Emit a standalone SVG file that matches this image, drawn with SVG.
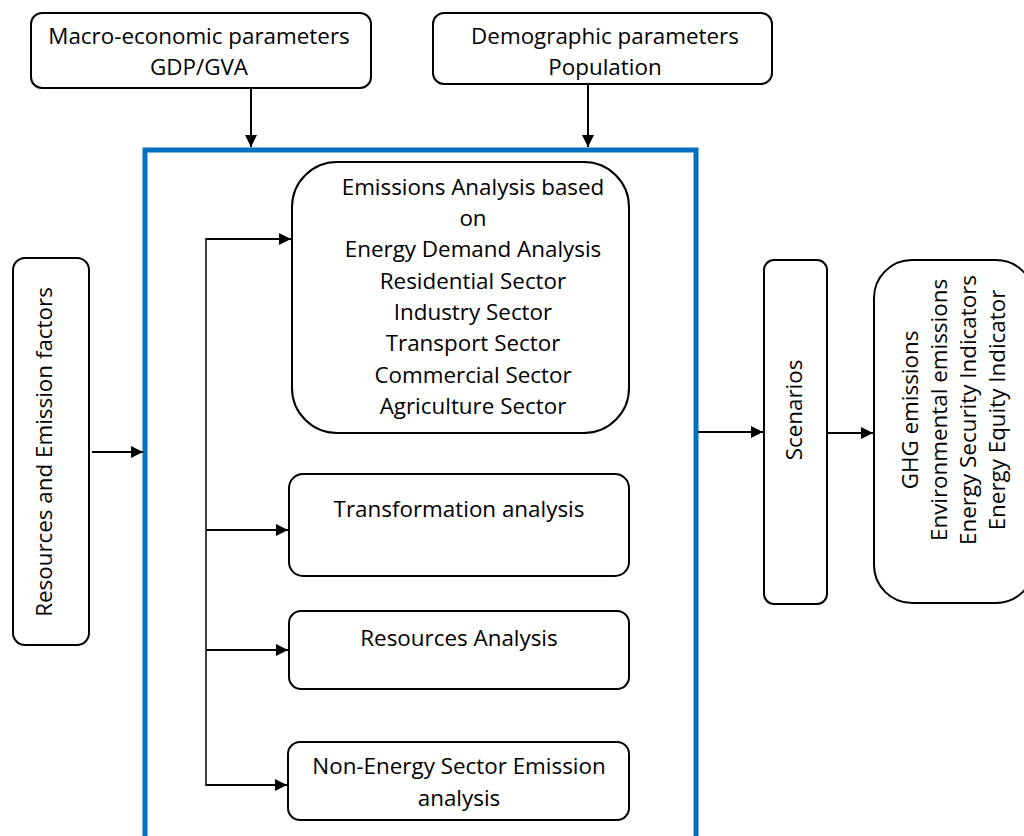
<svg xmlns="http://www.w3.org/2000/svg" width="1024" height="836" viewBox="0 0 1024 836">
<style>
.box{fill:#fff;stroke:#000;stroke-width:2}
.t{font-family:"Open Sans","Noto Sans",sans-serif;font-size:22.4px;fill:#000;text-anchor:middle;dominant-baseline:central}
.c{stroke:#000;stroke-width:2;fill:none}
</style>
<defs>
<marker id="ah" viewBox="0 0 10 10" refX="10" refY="5" markerWidth="12" markerHeight="12" markerUnits="userSpaceOnUse" orient="auto">
<path d="M0,0 L10,5 L0,10 z" fill="#000"/>
</marker>
</defs>
<rect width="1024" height="836" fill="#fff"/>
<g id="macro">
<rect class="box" x="31" y="13" width="340" height="75" rx="11"/>
<text class="t" x="199" y="35">Macro-economic parameters</text>
<text class="t" x="199" y="66">GDP/GVA</text>
</g>
<g id="demographic">
<rect class="box" x="433" y="13" width="339" height="71" rx="11"/>
<text class="t" x="605" y="35">Demographic parameters</text>
<text class="t" x="605" y="66">Population</text>
</g>
<g id="model">
<rect x="145" y="150" width="551" height="700" fill="none" stroke="#0070C0" stroke-width="5"/>
</g>
<g id="emissions">
<rect class="box" x="292" y="162" width="337" height="271" rx="45"/>
<text class="t" x="473" y="186">Emissions Analysis based</text>
<text class="t" x="473" y="217">on</text>
<text class="t" x="473" y="248">Energy Demand Analysis</text>
<text class="t" x="473" y="280">Residential Sector</text>
<text class="t" x="473" y="311">Industry Sector</text>
<text class="t" x="473" y="342">Transport Sector</text>
<text class="t" x="473" y="374">Commercial Sector</text>
<text class="t" x="473" y="405">Agriculture Sector</text>
</g>
<g id="transformation">
<rect class="box" x="289" y="474" width="340" height="102" rx="14"/>
<text class="t" x="459" y="508">Transformation analysis</text>
</g>
<g id="resources">
<rect class="box" x="289" y="611" width="340" height="78" rx="12"/>
<text class="t" x="459" y="637">Resources Analysis</text>
</g>
<g id="nonenergy">
<rect class="box" x="288" y="742" width="341" height="78" rx="12"/>
<text class="t" x="459" y="765">Non-Energy Sector Emission</text>
<text class="t" x="459" y="797">analysis</text>
</g>
<g id="factors">
<rect class="box" x="13" y="258" width="76" height="387" rx="12"/>
<text class="t" transform="translate(43,452) rotate(-90)">Resources and Emission factors</text>
</g>
<g id="scenarios">
<rect class="box" x="764" y="260" width="63" height="344" rx="10"/>
<text class="t" transform="translate(793,410) rotate(-90)">Scenarios</text>
</g>
<g id="results">
<rect class="box" x="874" y="260" width="160" height="343" rx="38"/>
<text class="t" transform="translate(909,410) rotate(-90)">GHG emissions</text>
<text class="t" transform="translate(938,410) rotate(-90)">Environmental emissions</text>
<text class="t" transform="translate(967,410) rotate(-90)">Energy Security Indicators</text>
<text class="t" transform="translate(996,410) rotate(-90)">Energy Equity Indicator</text>
</g>
<g id="connectors">
<line class="c" x1="251" y1="88" x2="251" y2="147" marker-end="url(#ah)"/>
<line class="c" x1="588" y1="84" x2="588" y2="147" marker-end="url(#ah)"/>
<line class="c" x1="92" y1="452" x2="143" y2="452" marker-end="url(#ah)"/>
<line class="c" x1="698" y1="432" x2="763" y2="432" marker-end="url(#ah)"/>
<line class="c" x1="827" y1="433" x2="873" y2="433" marker-end="url(#ah)"/>
<line x1="206" y1="238" x2="206" y2="786" stroke="#000" stroke-width="1.5"/>
<line class="c" x1="206" y1="239" x2="291" y2="239" marker-end="url(#ah)"/>
<line class="c" x1="206" y1="530" x2="288" y2="530" marker-end="url(#ah)"/>
<line class="c" x1="206" y1="650" x2="288" y2="650" marker-end="url(#ah)"/>
<line class="c" x1="206" y1="785" x2="287" y2="785" marker-end="url(#ah)"/>
</g>
</svg>
